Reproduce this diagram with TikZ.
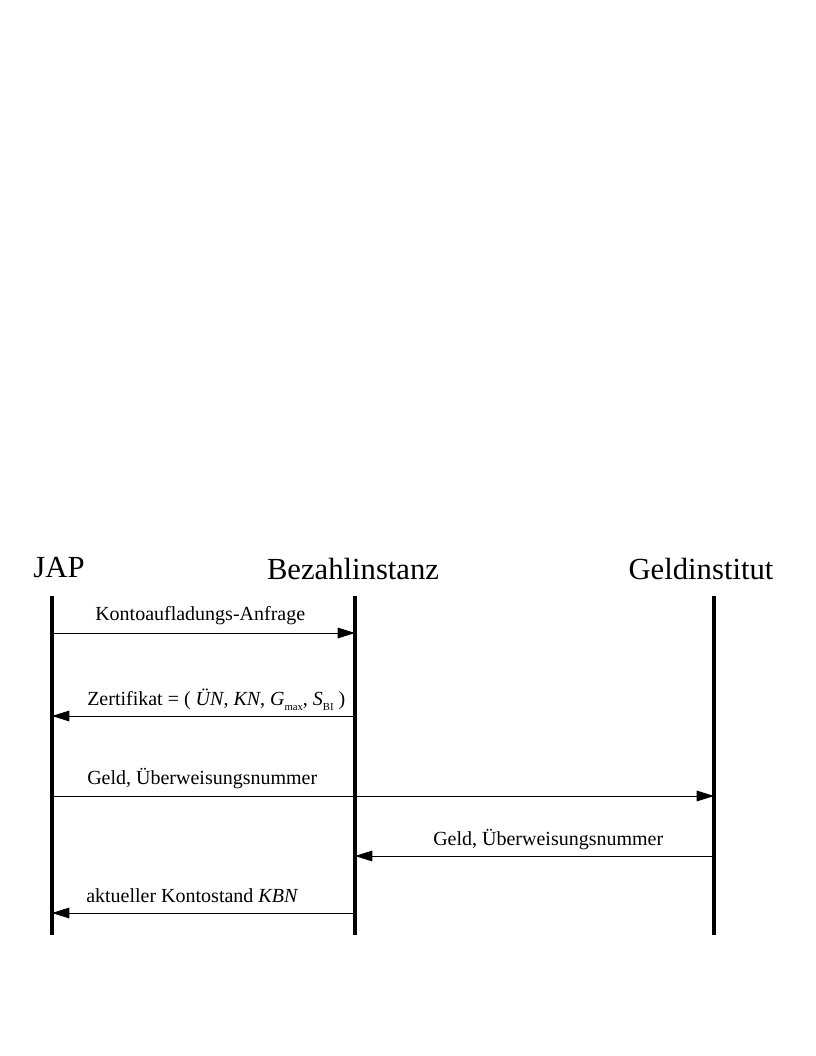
\documentclass[tikz,border=0pt]{standalone}
\usepackage{fontspec}
\setmainfont{Liberation Serif}
\usetikzlibrary{arrows.meta}

\newcommand{\lowsub}[1]{\raisebox{-0.6ex}{\fontsize{8}{8}\selectfont #1}}

\begin{document}
\begin{tikzpicture}[x=0.75pt,y=-0.75pt,
  lifeline/.style={line width=3.5pt},
  msg/.style={line width=0.75pt,-{Triangle[length=13pt,width=8pt]}},
  msglabel/.style={anchor=base west,inner sep=0pt,font=\fontsize{15}{18}\selectfont},
  head/.style={anchor=base,inner sep=0pt,font=\fontsize{23}{27}\selectfont}]
\useasboundingbox (0,0) rectangle (816,1056);
% the three parties
\node [head] (jap) at (59,577) {JAP};
\node [head] (bi) at (353,579) {Bezahlinstanz};
\node [head] (gi) at (701,579) {Geldinstitut};
\coordinate (japtop) at (52,596);
\coordinate (japbot) at (52,935);
\coordinate (bitop) at (355,596);
\coordinate (bibot) at (355,935);
\coordinate (gitop) at (714,596);
\coordinate (gibot) at (714,935);
\draw [lifeline] (japtop) -- (japbot);
\draw [lifeline] (bitop) -- (bibot);
\draw [lifeline] (gitop) -- (gibot);
% message rows
\coordinate (m1) at (0,633);
\coordinate (m2) at (0,716);
\coordinate (m3) at (0,796);
\coordinate (m4) at (0,856);
\coordinate (m5) at (0,913);
\draw [msg] (japtop |- m1) -- (bitop |- m1);
\draw [msg] (bitop |- m2) -- (japtop |- m2);
\draw [msg] (japtop |- m3) -- (gitop |- m3);
\draw [msg] (gitop |- m4) -- (bitop |- m4);
\draw [msg] (bitop |- m5) -- (japtop |- m5);
\node [msglabel] (l1) at (95,620) {Kontoaufladungs-Anfrage};
\node [msglabel] (l2) at (87,705) {Zertifikat = ( \textit{ÜN}, \textit{KN}, \textit{G}\lowsub{max}, \textit{S}\lowsub{BI} )};
\node [msglabel] (l3) at (87,784) {Geld, Überweisungsnummer};
\node [msglabel] (l4) at (433,845) {Geld, Überweisungsnummer};
\node [msglabel] (l5) at (86,902) {aktueller Kontostand \textit{KBN}};
\end{tikzpicture}
\end{document}
